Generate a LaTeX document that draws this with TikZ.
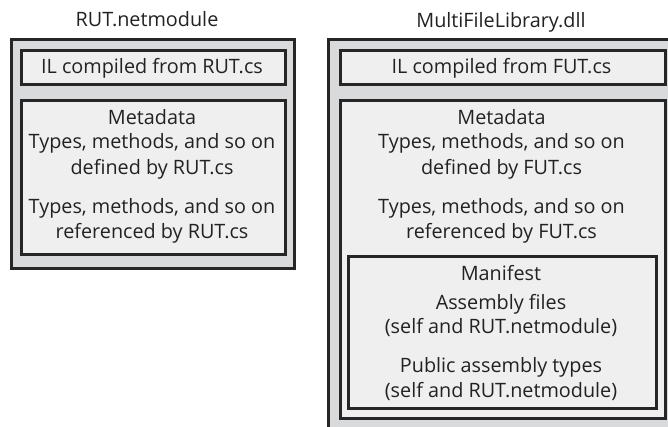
\documentclass[tikz,border=0pt]{standalone}
\usepackage{fontspec}
\setmainfont{Open Sans}
\definecolor{outerfill}{HTML}{D9DADB}
\definecolor{innerfill}{HTML}{EFEFEF}
\definecolor{edge}{HTML}{262626}
\definecolor{ink}{HTML}{222222}
\begin{document}
\begin{tikzpicture}[x=1pt,y=-1pt,
  outerbox/.style={draw=edge,line width=2.6pt,fill=outerfill,inner sep=0pt,anchor=north west},
  innerbox/.style={draw=edge,line width=2.6pt,fill=innerfill,inner sep=0pt,anchor=north west},
  txt/.style={anchor=base,inner sep=0pt,text=ink,font=\fontsize{19.8}{22}\selectfont}]
\useasboundingbox (0,0) rectangle (668,426);
\clip (0,0) rectangle (668,426);
\fill[white] (0,0) rectangle (668,426);
% left assembly
\node[txt] (lt) at (147,26) {RUT.netmodule};
\node[outerbox,minimum width=283pt,minimum height=229pt] (lo) at (10,38) {};
\node[innerbox,minimum width=264pt,minimum height=34pt] (lil) at (20,49) {};
\node[innerbox,minimum width=264pt,minimum height=154pt] (lmd) at (20,99) {};
\node[txt] (lilt) at (152,73) {IL compiled from RUT.cs};
\node[txt] (lm1) at (152,124) {Metadata};
\node[txt] (lm2) at (152,148) {Types, methods, and so on};
\node[txt] (lm3) at (152,174) {defined by RUT.cs};
\node[txt] (lm4) at (152,213) {Types, methods, and so on};
\node[txt] (lm5) at (152,238) {referenced by RUT.cs};
% right assembly
\node[txt] (rt) at (501,27) {MultiFileLibrary.dll};
\node[outerbox,minimum width=360pt,minimum height=420pt] (ro) at (327,38) {};
\node[innerbox,minimum width=325pt,minimum height=34pt] (ril) at (339,49) {};
\node[innerbox,minimum width=325pt,minimum height=318pt] (rmd) at (339,99) {};
\node[innerbox,minimum width=308pt,minimum height=152pt] (rmf) at (347,255) {};
\node[txt] (rilt) at (501.5,73) {IL compiled from FUT.cs};
\node[txt] (rm1) at (501.5,124) {Metadata};
\node[txt] (rm2) at (501.5,148) {Types, methods, and so on};
\node[txt] (rm3) at (501.5,174) {defined by FUT.cs};
\node[txt] (rm4) at (501.5,213) {Types, methods, and so on};
\node[txt] (rm5) at (501.5,238) {referenced by FUT.cs};
\node[txt] (mf1) at (501,280) {Manifest};
\node[txt] (mf2) at (501,309) {Assembly files};
\node[txt] (mf3) at (501,333) {(self and RUT.netmodule)};
\node[txt] (mf4) at (501,372) {Public assembly types};
\node[txt] (mf5) at (501,397) {(self and RUT.netmodule)};
\end{tikzpicture}
\end{document}
